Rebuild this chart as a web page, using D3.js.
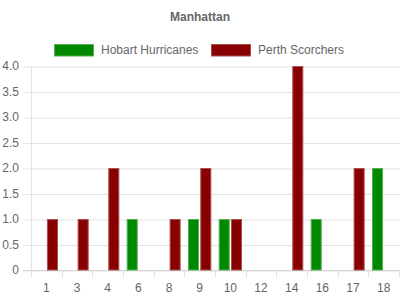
<!DOCTYPE html>
<html><head><meta charset="utf-8">
<script src="https://cdn.jsdelivr.net/npm/d3@7"></script>
<style>body{margin:0;background:#fff}svg{display:block}text{font-family:"Liberation Sans",Arial,sans-serif}</style>
</head><body>
<svg id="c" width="400" height="300"></svg>
<script>
const categories = ["1","3","4","6","8","9","10","12","14","16","17","18"];
const hobart = [0,0,0,1,0,1,1,0,0,1,0,2];
const perth  = [1,1,2,0,1,2,1,0,4,0,2,0];
const seriesNames = ["Hobart Hurricanes","Perth Scorchers"];
const yTicks = [0,0.5,1,1.5,2,2.5,3,3.5,4];

const fills = ["#008800","#880000"];
const strokes = ["#55b055","#a85050"];
const series = [hobart, perth];

const svg = d3.select("#c");
const pL = 31, pR = 399, pT = 66, pB = 270;

const x = d3.scaleBand().domain(categories).range([pL, pR]).paddingInner(0).paddingOuter(0);
const y = d3.scaleLinear().domain([0,4]).range([pB, pT]);

// title
svg.append("text").attr("x",200).attr("y",21).attr("text-anchor","middle")
  .attr("font-size",12).attr("font-weight","bold").attr("fill","#666").text("Manhattan");

// legend
const legendX = [54, 211];
seriesNames.forEach((n,i)=>{
  svg.append("rect").attr("x",legendX[i]+0.5).attr("y",44.5).attr("width",39).attr("height",11.5)
    .attr("fill",fills[i]).attr("stroke",strokes[i]).attr("stroke-width",1);
  svg.append("text").attr("x",legendX[i]+47).attr("y",54).attr("font-size",12).attr("fill","#666").text(n);
});

// y grid
const yAxis = d3.axisLeft(y).tickValues(yTicks).tickSize(0).tickPadding(0)
  .tickFormat(d=> d===0 ? "0" : d3.format(".1f")(d));
const gy = svg.append("g").attr("transform",`translate(${pL-8},0)`).call(yAxis);
gy.select(".domain").remove();
gy.selectAll(".tick line").attr("stroke","#e3e3e3").attr("x1",0).attr("x2",pR-pL+9)
  .attr("y1",0.5).attr("y2",0.5);
gy.selectAll(".tick text").attr("font-size",12).attr("fill","#666").attr("x",-4)
  .attr("font-family","Liberation Sans, Arial, sans-serif");

// x axis
const xAxis = d3.axisBottom(x).tickSize(0).tickPadding(0);
const gx = svg.append("g").attr("transform",`translate(0,${pB})`).call(xAxis);
gx.select(".domain").remove();
gx.selectAll(".tick text").attr("font-size",12).attr("fill","#666").attr("y",22).attr("dy",0)
  .attr("font-family","Liberation Sans, Arial, sans-serif");
// boundary tick marks
const bounds = categories.map(c=>x(c)).concat([pR]);
svg.append("g").selectAll("line").data(bounds).join("line")
  .attr("x1",d=>Math.round(d)+0.5).attr("x2",d=>Math.round(d)+0.5)
  .attr("y1",pB).attr("y2",pB+8).attr("stroke","#e3e3e3");
// y axis line
svg.append("line").attr("x1",pL+0.5).attr("x2",pL+0.5).attr("y1",pT).attr("y2",pB+8).attr("stroke","#e3e3e3");
// x axis line
svg.append("line").attr("x1",pL-8).attr("x2",pR+1).attr("y1",pB+0.5).attr("y2",pB+0.5).attr("stroke","#d6d6d6");

// bars
const catPct = 0.8, barPct = 0.9;
series.forEach((vals,si)=>{
  svg.append("g").selectAll("rect").data(vals.map((v,i)=>({c:categories[i],v})).filter(d=>d.v>0)).join("rect")
    .attr("x", d=> {
      const cw = x.bandwidth(), gw = cw*catPct, sw = gw/2;
      return x(d.c) + (cw-gw)/2 + si*sw + (sw - sw*barPct)/2 + 0.5;
    })
    .attr("width", x.bandwidth()*catPct/2*barPct - 1)
    .attr("y", d=>y(d.v)+0.5)
    .attr("height", d=>y(0)-y(d.v)-0.5)
    .attr("fill", fills[si]).attr("stroke", strokes[si]).attr("stroke-width",1);
});
</script>
</body></html>
